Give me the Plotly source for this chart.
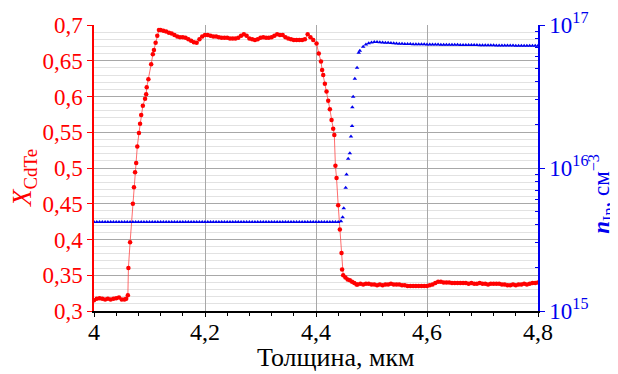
import plotly.graph_objects as go

# ---- X_CdTe (left axis) ----
x_thick = [
    4.000, 4.005, 4.010, 4.015, 4.020, 4.025, 4.030, 4.035, 4.040, 4.045, 4.050, 4.055, 4.058,
    4.061, 4.062, 4.065, 4.070, 4.072, 4.074, 4.076, 4.078, 4.081, 4.083, 4.085, 4.088, 4.092,
    4.094, 4.095, 4.098, 4.103, 4.106, 4.108, 4.111, 4.114, 4.117,
    4.120, 4.125, 4.130, 4.135, 4.140, 4.145, 4.150, 4.155, 4.160, 4.165, 4.170, 4.175, 4.180,
    4.185, 4.190, 4.195, 4.200, 4.205, 4.210, 4.215, 4.220, 4.225, 4.230, 4.235, 4.240, 4.245,
    4.250, 4.255, 4.260, 4.265, 4.270, 4.275, 4.280, 4.285, 4.290, 4.295, 4.300, 4.305, 4.310,
    4.315, 4.320, 4.325, 4.330, 4.335, 4.340, 4.345, 4.350, 4.355, 4.360, 4.365, 4.370, 4.375,
    4.380, 4.385, 4.390, 4.395, 4.401, 4.405, 4.409, 4.411, 4.413, 4.416, 4.419, 4.422, 4.425,
    4.428, 4.431, 4.433, 4.435, 4.437, 4.440, 4.443, 4.446, 4.447, 4.449, 4.453, 4.457, 4.461,
    4.465, 4.469, 4.473,
    4.475, 4.480, 4.485, 4.490, 4.495, 4.500, 4.505, 4.510, 4.515, 4.520, 4.525, 4.530, 4.535,
    4.540, 4.545, 4.550, 4.555, 4.560, 4.565, 4.570, 4.575, 4.580, 4.585, 4.590, 4.595, 4.600,
    4.605, 4.610, 4.615, 4.620, 4.625, 4.630, 4.635, 4.640, 4.645, 4.650, 4.655, 4.660, 4.665,
    4.670, 4.675, 4.680, 4.685, 4.690, 4.695, 4.700, 4.705, 4.710, 4.715, 4.720, 4.725, 4.730,
    4.735, 4.740, 4.745, 4.750, 4.755, 4.760, 4.765, 4.770, 4.775, 4.780, 4.785, 4.790, 4.795,
    4.800,
]
x_cdte = [
    0.315, 0.317, 0.318, 0.317, 0.316, 0.317, 0.316, 0.317, 0.318, 0.319, 0.316, 0.316, 0.317,
    0.322, 0.360, 0.396, 0.450, 0.473, 0.494, 0.507, 0.530, 0.549, 0.562, 0.574, 0.587, 0.597,
    0.603, 0.613, 0.624, 0.645, 0.659, 0.665, 0.675, 0.685, 0.693,
    0.693, 0.692, 0.691, 0.689, 0.688, 0.686, 0.684, 0.683, 0.683, 0.682, 0.680, 0.678, 0.676,
    0.675, 0.680, 0.684, 0.686, 0.686, 0.685, 0.684, 0.684, 0.683, 0.682, 0.682, 0.682, 0.681,
    0.681, 0.681, 0.682, 0.685, 0.687, 0.685, 0.681, 0.680, 0.679, 0.680, 0.682, 0.683, 0.682,
    0.682, 0.683, 0.685, 0.687, 0.686, 0.686, 0.683, 0.681, 0.680, 0.679, 0.679, 0.679, 0.679,
    0.680, 0.687, 0.683, 0.679, 0.674, 0.660, 0.649, 0.637, 0.630, 0.618, 0.607, 0.594, 0.582,
    0.567, 0.555, 0.546, 0.503, 0.486, 0.448, 0.414, 0.381, 0.358, 0.350, 0.347, 0.344, 0.343,
    0.341, 0.339, 0.337,
    0.337, 0.338, 0.337, 0.338, 0.338, 0.337, 0.337, 0.336, 0.337, 0.336, 0.337, 0.337, 0.338,
    0.337, 0.337, 0.337, 0.336, 0.336, 0.335, 0.335, 0.335, 0.335, 0.335, 0.335, 0.335, 0.335,
    0.336, 0.337, 0.339, 0.341, 0.341, 0.340, 0.340, 0.340, 0.339, 0.339, 0.339, 0.339, 0.339,
    0.339, 0.338, 0.339, 0.338, 0.338, 0.339, 0.338, 0.338, 0.337, 0.338, 0.338, 0.338, 0.338,
    0.337, 0.337, 0.336, 0.336, 0.337, 0.336, 0.337, 0.337, 0.338, 0.337, 0.338, 0.339, 0.339,
    0.340,
]

# ---- n_In (right axis, log) ----
n_thick = [
    4.000, 4.005, 4.010, 4.015, 4.020, 4.025, 4.030, 4.035, 4.040, 4.045,
    4.050, 4.055, 4.060, 4.065, 4.070, 4.075, 4.080, 4.085, 4.090, 4.095,
    4.100, 4.105, 4.110, 4.115, 4.120, 4.125, 4.130, 4.135, 4.140, 4.145,
    4.150, 4.155, 4.160, 4.165, 4.170, 4.175, 4.180, 4.185, 4.190, 4.195,
    4.200, 4.205, 4.210, 4.215, 4.220, 4.225, 4.230, 4.235, 4.240, 4.245,
    4.250, 4.255, 4.260, 4.265, 4.270, 4.275, 4.280, 4.285, 4.290, 4.295,
    4.300, 4.305, 4.310, 4.315, 4.320, 4.325, 4.330, 4.335, 4.340, 4.345,
    4.350, 4.355, 4.360, 4.365, 4.370, 4.375, 4.380, 4.385, 4.390, 4.395,
    4.400, 4.405, 4.410, 4.415, 4.420, 4.425, 4.430, 4.435, 4.440, 4.445,
    4.448, 4.450, 4.4535, 4.455, 4.458, 4.461, 4.463, 4.465, 4.4655, 4.467,
    4.470, 4.474, 4.477, 4.479,
    4.485, 4.490, 4.495, 4.500, 4.505, 4.510, 4.515, 4.520, 4.525, 4.530,
    4.535, 4.540, 4.545, 4.550, 4.555, 4.560, 4.565, 4.570, 4.575, 4.580,
    4.585, 4.590, 4.595, 4.600, 4.605, 4.610, 4.615, 4.620, 4.625, 4.630,
    4.635, 4.640, 4.645, 4.650, 4.655, 4.660, 4.665, 4.670, 4.675, 4.680,
    4.685, 4.690, 4.695, 4.700, 4.705, 4.710, 4.715, 4.720, 4.725, 4.730,
    4.735, 4.740, 4.745, 4.750, 4.755, 4.760, 4.765, 4.770, 4.775, 4.780,
    4.785, 4.790, 4.795, 4.800,
]
n_in = [
    4.2e15, 4.2e15, 4.2e15, 4.2e15, 4.2e15, 4.2e15, 4.2e15, 4.2e15, 4.2e15, 4.2e15,
    4.2e15, 4.2e15, 4.2e15, 4.2e15, 4.2e15, 4.2e15, 4.2e15, 4.2e15, 4.2e15, 4.2e15,
    4.2e15, 4.2e15, 4.2e15, 4.2e15, 4.2e15, 4.2e15, 4.2e15, 4.2e15, 4.2e15, 4.2e15,
    4.2e15, 4.2e15, 4.2e15, 4.2e15, 4.2e15, 4.2e15, 4.2e15, 4.2e15, 4.2e15, 4.2e15,
    4.2e15, 4.2e15, 4.2e15, 4.2e15, 4.2e15, 4.2e15, 4.2e15, 4.2e15, 4.2e15, 4.2e15,
    4.2e15, 4.2e15, 4.2e15, 4.2e15, 4.2e15, 4.2e15, 4.2e15, 4.2e15, 4.2e15, 4.2e15,
    4.2e15, 4.2e15, 4.2e15, 4.2e15, 4.2e15, 4.2e15, 4.2e15, 4.2e15, 4.2e15, 4.2e15,
    4.2e15, 4.2e15, 4.2e15, 4.2e15, 4.2e15, 4.2e15, 4.2e15, 4.2e15, 4.2e15, 4.2e15,
    4.2e15, 4.2e15, 4.2e15, 4.2e15, 4.2e15, 4.2e15, 4.2e15, 4.2e15, 4.2e15, 4.25e15,
    4.52e15, 5.22e15, 7.28e15, 9.0e15, 1.16e16, 1.27e16, 1.66e16, 1.97e16, 2.66e16, 3.15e16,
    4.21e16, 5.02e16, 6.4e16, 6.6e16,
    7.05e16, 7.3e16, 7.45e16, 7.55e16, 7.6e16, 7.6e16, 7.58e16, 7.55e16, 7.52e16, 7.5e16,
    7.47e16, 7.45e16, 7.42e16, 7.4e16, 7.38e16, 7.37e16, 7.36e16, 7.35e16, 7.34e16, 7.33e16,
    7.33e16, 7.32e16, 7.32e16, 7.31e16, 7.31e16, 7.3e16, 7.3e16, 7.3e16, 7.29e16, 7.29e16,
    7.28e16, 7.28e16, 7.28e16, 7.27e16, 7.27e16, 7.26e16, 7.26e16, 7.25e16, 7.25e16, 7.25e16,
    7.24e16, 7.24e16, 7.23e16, 7.23e16, 7.22e16, 7.22e16, 7.21e16, 7.21e16, 7.2e16, 7.2e16,
    7.2e16, 7.19e16, 7.19e16, 7.18e16, 7.18e16, 7.17e16, 7.17e16, 7.16e16, 7.16e16, 7.15e16,
    7.15e16, 7.15e16, 7.15e16, 7.15e16,
]

x_ticks = [4.0, 4.2, 4.4, 4.6, 4.8]
y_ticks = [0.3, 0.35, 0.4, 0.45, 0.5, 0.55, 0.6, 0.65, 0.7]
n_tickvals = [1e15, 1e16, 1e17]
n_ticktext = ["10<sup>15</sup>", "10<sup>16</sup>", "10<sup>17</sup>"]
n_minor_vals = [2e15, 3e15, 4e15, 5e15, 6e15, 7e15, 8e15, 9e15,
                2e16, 3e16, 4e16, 5e16, 6e16, 7e16, 8e16, 9e16]

FONT = "Times New Roman"
RED = "#ff0000"
BLUE = "#0000ee"

fig = go.Figure()
fig.add_trace(go.Scatter(
    x=x_thick, y=x_cdte, mode="lines+markers",
    line=dict(color="rgba(255,60,60,0.75)", width=1),
    marker=dict(color=RED, size=4.5, symbol="circle"),
    showlegend=False, yaxis="y",
))
fig.add_trace(go.Scatter(
    x=n_thick, y=n_in, mode="markers",
    marker=dict(color=BLUE, size=4, symbol="triangle-up"),
    showlegend=False, yaxis="y2",
))

fig.update_layout(
    width=610, height=366,
    margin=dict(l=86, r=80, t=17, b=63),
    paper_bgcolor="white", plot_bgcolor="white",
    separators=", ",
    font=dict(family=FONT, size=20, color="black"),
    xaxis=dict(
        range=[4, 4.8], tickvals=x_ticks, automargin=False,
        showgrid=True, gridcolor="#a8a8a8", gridwidth=1,
        showline=True, linecolor="black", linewidth=1.5,
        ticks="outside", ticklen=4, tickcolor="black",
        ticklabelstandoff=-6,
        tickfont=dict(size=24, color="black", family=FONT),
        minor=dict(dtick=0.04, ticks="outside", ticklen=3, tickcolor="black", showgrid=False),
        zeroline=False,
    ),
    yaxis=dict(
        range=[0.3, 0.7], tickvals=y_ticks, automargin=False,
        showgrid=True, gridcolor="#a8a8a8", gridwidth=1,
        showline=True, linecolor=RED, linewidth=1.5,
        ticks="outside", ticklen=5, tickcolor=RED,
        tickfont=dict(size=23, color=RED, family=FONT),
        minor=dict(dtick=0.01, showgrid=True, gridcolor="#e2e2e2", ticks=""),
        zeroline=False,
    ),
    yaxis2=dict(
        type="log", range=[15, 17], overlaying="y", side="right", automargin=False,
        tickvals=n_tickvals, ticktext=n_ticktext,
        showgrid=False,
        showline=True, linecolor=BLUE, linewidth=1.5,
        ticks="outside", ticklen=5, tickcolor=BLUE,
        tickfont=dict(size=23, color=BLUE, family=FONT),
        minor=dict(tickvals=n_minor_vals, ticks="inside", ticklen=3, tickcolor=BLUE, showgrid=False),
        zeroline=False,
    ),
    annotations=[
        dict(text="Толщина, мкм", xref="paper", yref="paper", x=0.5, y=0,
             xanchor="center", yanchor="middle", xshift=20, yshift=-46, showarrow=False,
             font=dict(size=26, color="black", family=FONT)),
        dict(text="<i>X</i><sub>CdTe</sub>", xref="paper", yref="paper", x=0, y=0.465,
             xanchor="center", yanchor="middle", xshift=-70, textangle=-90, showarrow=False,
             font=dict(size=27, color=RED, family=FONT)),
        dict(text="<b><i>n</i></b><sub>In</sub>, см<sup>−3</sup>", xref="paper", yref="paper", x=1, y=0.41,
             xanchor="center", yanchor="middle", xshift=63, textangle=-90, showarrow=False,
             font=dict(size=23, color=BLUE, family=FONT)),
    ],
)

fig.write_html("out.html")
